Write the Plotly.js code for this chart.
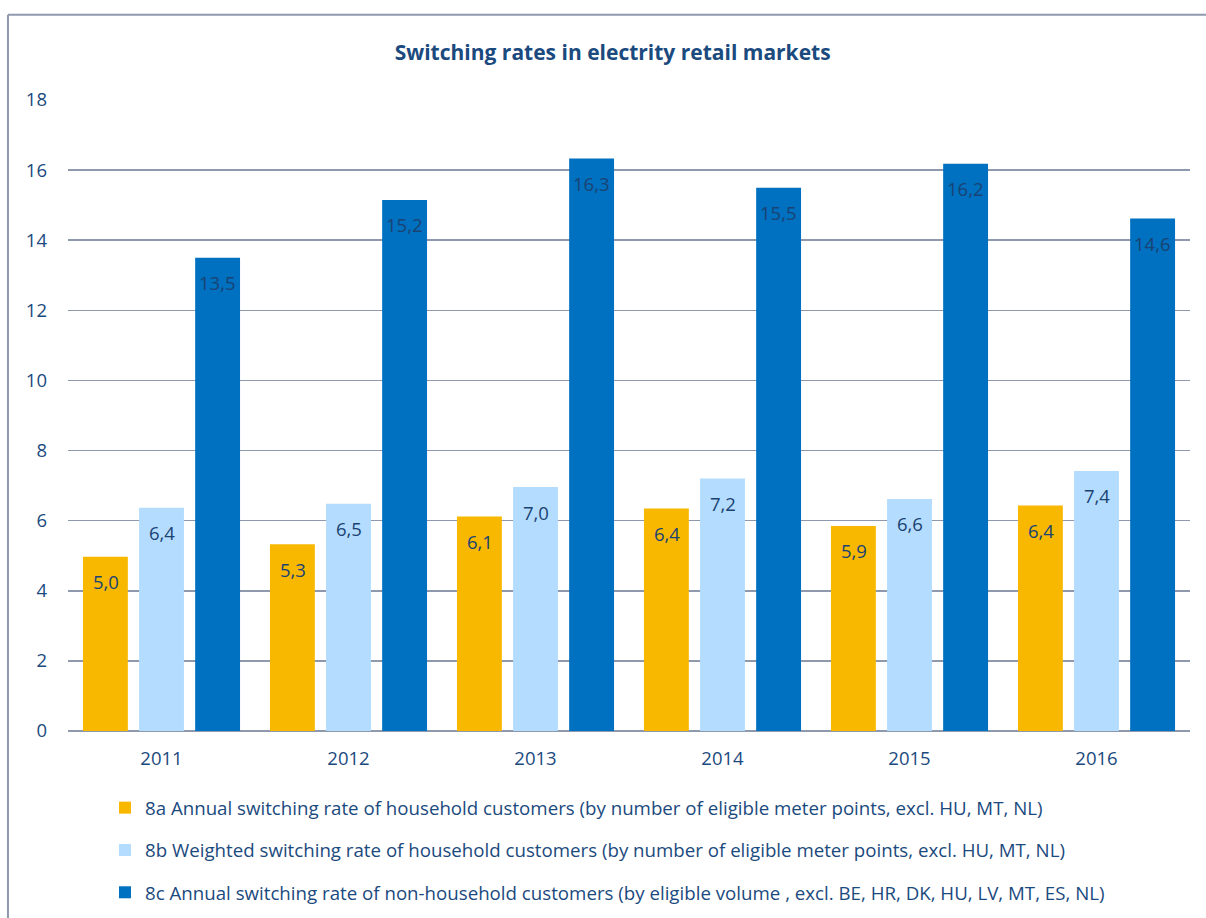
<!DOCTYPE html>
<html>
<head>
<meta charset="utf-8">
<script src="https://cdn.plot.ly/plotly-3.0.1.min.js"></script>
<style>
html, body { margin: 0; padding: 0; background: #ffffff; }
#chart { width: 1206px; height: 918px; }
</style>
</head>
<body>
<div id="chart"></div>
<script>
var years = ["2011", "2012", "2013", "2014", "2015", "2016"];
var seriesA = [4.97, 5.33, 6.12, 6.35, 5.85, 6.43];
var seriesB = [6.37, 6.48, 6.96, 7.20, 6.62, 7.42];
var seriesC = [13.50, 15.15, 16.33, 15.50, 16.18, 14.62];
var labelsA = ["5,0", "5,3", "6,1", "6,4", "5,9", "6,4"];
var labelsB = ["6,4", "6,5", "7,0", "7,2", "6,6", "7,4"];
var labelsC = ["13,5", "15,2", "16,3", "15,5", "16,2", "14,6"];
var nameA = "8a Annual switching rate of household customers (by number of eligible meter points, excl. HU, MT, NL)";
var nameB = "8b Weighted switching rate of household customers (by number of eligible meter points, excl. HU, MT, NL)";
var nameC = "8c Annual switching rate of non-household customers (by eligible volume , excl. BE, HR, DK, HU, LV, MT, ES, NL)";

var FONT = "'Open Sans', sans-serif";
var TXT = "#1b4a7e";
var LBL = "#1a4373";
var FS = 18.5;

function mk(name, ys, color, g) {
  return {
    type: "bar", name: name, x: years, y: ys,
    marker: { color: color, line: { width: 0 } },
    legendgroup: g, hoverinfo: "x+y"
  };
}

var data = [
  mk(nameA, seriesA, "#f9b800", "a"),
  mk(nameB, seriesB, "#b4dcfe", "b"),
  mk(nameC, seriesC, "#0070c0", "c")
];

// value labels, placed just below each bar's top through the axes
var annotations = [];
var groups = [[seriesA, labelsA], [seriesB, labelsB], [seriesC, labelsC]];
var slotPx = 56;
groups.forEach(function (g, i) {
  years.forEach(function (yr, j) {
    annotations.push({
      x: j, y: g[0][j], xref: "x", yref: "y", text: g[1][j], showarrow: false,
      xshift: (i - 1) * slotPx, yshift: -25, yanchor: "middle", xanchor: "center",
      font: { family: FONT, size: FS, color: LBL }
    });
  });
});

var layout = {
  width: 1206, height: 918,
  margin: { l: 68, r: 16, t: 100, b: 187 },
  paper_bgcolor: "#ffffff", plot_bgcolor: "#ffffff",
  font: { family: FONT, size: FS, color: TXT },
  title: { text: "<b>Switching rates in electrity retail markets</b>", x: 0.508, xanchor: "center", y: 0.943, yanchor: "middle",
           font: { family: FONT, size: 21, color: TXT } },
  barmode: "group", bargap: 0.1, bargroupgap: 0.2,
  xaxis: { type: "category", range: [-0.5, years.length - 0.5], autorange: false,
           showgrid: false, showline: false, zeroline: false, ticks: "", ticklen: 0,
           ticklabelstandoff: 14, automargin: false,
           tickfont: { family: FONT, size: FS, color: TXT }, fixedrange: true },
  yaxis: { range: [0, 18], autorange: false, dtick: 2, showgrid: true, gridcolor: "#8f99ad", gridwidth: 1.5,
           zeroline: true, zerolinecolor: "#8f99ad", zerolinewidth: 1.5, showline: false,
           ticks: "", ticklen: 0, ticklabelstandoff: 20, automargin: false,
           tickfont: { family: FONT, size: FS, color: TXT }, fixedrange: true },
  showlegend: true,
  legend: { orientation: "v", x: (105 - 68) / 1122, xref: "paper", xanchor: "left",
            y: 1 - 789 / 918, yref: "container", yanchor: "top",
            traceorder: "grouped", tracegroupgap: 15,
            font: { family: FONT, size: 18.7, color: TXT }, bgcolor: "rgba(0,0,0,0)" },
  annotations: annotations,
  shapes: [
    { type: "line", xref: "paper", yref: "paper", x0: -0.0535, x1: -0.0535, y0: 1.135, y1: -0.35,
      line: { color: "#8f99ad", width: 2 } },
    { type: "line", xref: "paper", yref: "paper", x0: -0.0535, x1: 1.02, y0: 1.135, y1: 1.135,
      line: { color: "#8f99ad", width: 2 } }
  ]
};

Plotly.newPlot("chart", data, layout, { displayModeBar: false, staticPlot: true });
</script>
</body>
</html>
